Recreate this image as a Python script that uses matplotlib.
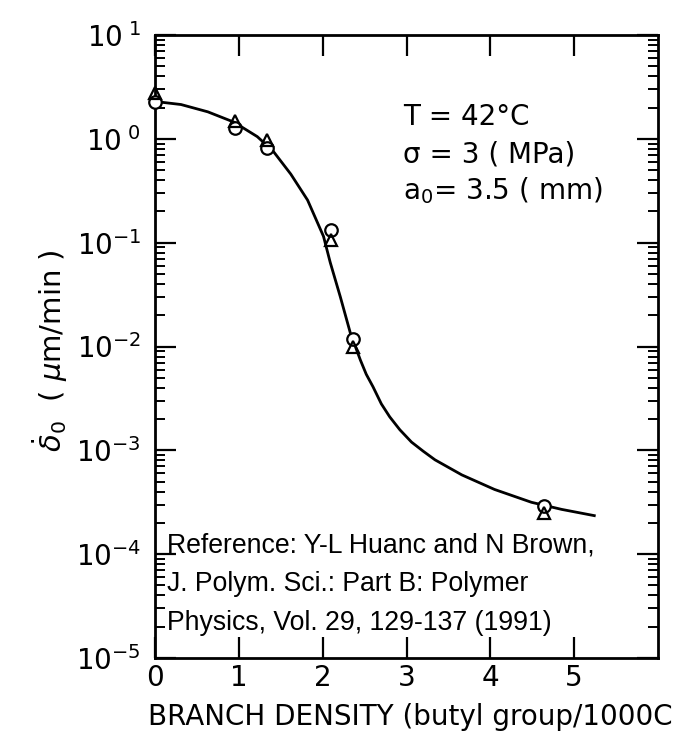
import matplotlib
matplotlib.use("Agg")
import matplotlib.pyplot as plt
from matplotlib.ticker import FixedLocator, FixedFormatter, LogLocator, NullFormatter

# ---- data ----
circle_x = [0.0, 0.95, 1.34, 2.10, 2.36, 4.64]
circle_y = [2.25, 1.28, 0.82, 0.133, 0.0117, 2.9e-4]
tri_x = [0.0, 0.95, 1.34, 2.10, 2.36, 4.64]
tri_y = [2.75, 1.50, 0.98, 0.106, 0.0098, 2.5e-4]

curve_x = [0.0, 0.31, 0.63, 0.94, 1.22, 1.41, 1.62, 1.82, 2.01, 2.09, 2.21,
           2.33, 2.45, 2.52, 2.60, 2.70, 2.80, 2.92, 3.06, 3.20, 3.34, 3.66,
           4.05, 4.49, 4.85, 5.24]
curve_y = [2.29, 2.14, 1.82, 1.45, 1.05, 0.76, 0.457, 0.257, 0.115, 0.0646, 0.0302,
           0.0135, 0.0074, 0.0054, 0.0041, 0.0028, 0.0021, 0.00158, 0.0012, 9.8e-4,
           8.1e-4, 5.8e-4, 4.2e-4, 3.16e-4, 2.7e-4, 2.35e-4]

x_ticks = [0, 1, 2, 3, 4, 5]
x_tick_labels = ["0", "1", "2", "3", "4", "5"]
y_ticks = [1e-5, 1e-4, 1e-3, 1e-2, 1e-1, 1e0, 1e1]
y_tick_labels = [r"$\mathregular{10^{-5}}$", r"$\mathregular{10^{-4}}$",
                 r"$\mathregular{10^{-3}}$", r"$\mathregular{10^{-2}}$",
                 r"$\mathregular{10^{-1}}$", r"$\mathregular{10^{\ 0}}$",
                 r"$\mathregular{10^{\ 1}}$"]

cond_lines = ["T = 42°C", "σ = 3 ( MPa)", r"a$_\mathregular{0}$= 3.5 ( mm)"]
ref_lines = ["Reference: Y-L Huanc and N Brown,",
             "J. Polym. Sci.: Part B: Polymer",
             "Physics, Vol. 29, 129-137 (1991)"]
x_label = "BRANCH DENSITY (butyl group/1000C"

plt.rcParams['font.family'] = ['DejaVu Sans']
plt.rcParams['mathtext.fontset'] = 'dejavusans'

fig = plt.figure(figsize=(6.9, 7.43), dpi=100)
ax = fig.add_axes([155/690, (743-658)/743, 503/690, 623/743])

ax.set_yscale('log')
ax.set_xlim(0, 6)
ax.set_ylim(1e-5, 1e1)

ax.plot(curve_x, curve_y, color='black', lw=2.0, clip_on=False, zorder=3,
        solid_joinstyle='round')
ax.plot(circle_x, circle_y, linestyle='none', marker='o', markersize=9,
        markerfacecolor='white', markeredgecolor='black', markeredgewidth=1.6,
        clip_on=False, zorder=4)
ax.plot(tri_x, tri_y, linestyle='none', marker='^', markersize=9,
        markerfacecolor='none', markeredgecolor='black', markeredgewidth=1.6,
        clip_on=False, zorder=5)

ax.xaxis.set_major_locator(FixedLocator(x_ticks))
ax.xaxis.set_major_formatter(FixedFormatter(x_tick_labels))
ax.yaxis.set_major_locator(FixedLocator(y_ticks))
ax.yaxis.set_major_formatter(FixedFormatter(y_tick_labels))
ax.yaxis.set_minor_locator(LogLocator(base=10, subs=[2, 3, 4, 5, 6, 7, 8, 9], numticks=20))
ax.yaxis.set_minor_formatter(NullFormatter())

ax.tick_params(axis='both', which='major', direction='in', length=15, width=1.6,
               labelsize=20, top=True, right=True, color='black')
ax.tick_params(axis='y', which='minor', direction='in', length=7, width=1.4,
               left=True, right=True)
ax.tick_params(axis='x', which='major', pad=4)
ax.tick_params(axis='y', which='major', pad=10)

for s in ax.spines.values():
    s.set_linewidth(2.0)

ax.set_ylabel(r"$\dot{\delta}_\mathregular{0}$  ( $\mu$m/min )", fontsize=21)
ax.yaxis.set_label_coords(-0.168, 0.494)

fig.text(148/690, 1 - 717/743, x_label, fontsize=20, ha='left', va='center')

for i, line in enumerate(cond_lines):
    fig.text(403/690, 1 - (117 + 37*i)/743, line, fontsize=20,
             ha='left', va='center')

for i, line in enumerate(ref_lines):
    fig.text(167/690, 1 - (545 + 39*i)/743, line, fontsize=19.2,
             ha='left', va='center',
             family=['Liberation Sans Narrow', 'Liberation Sans'])

fig.savefig("out.png", dpi=100)
